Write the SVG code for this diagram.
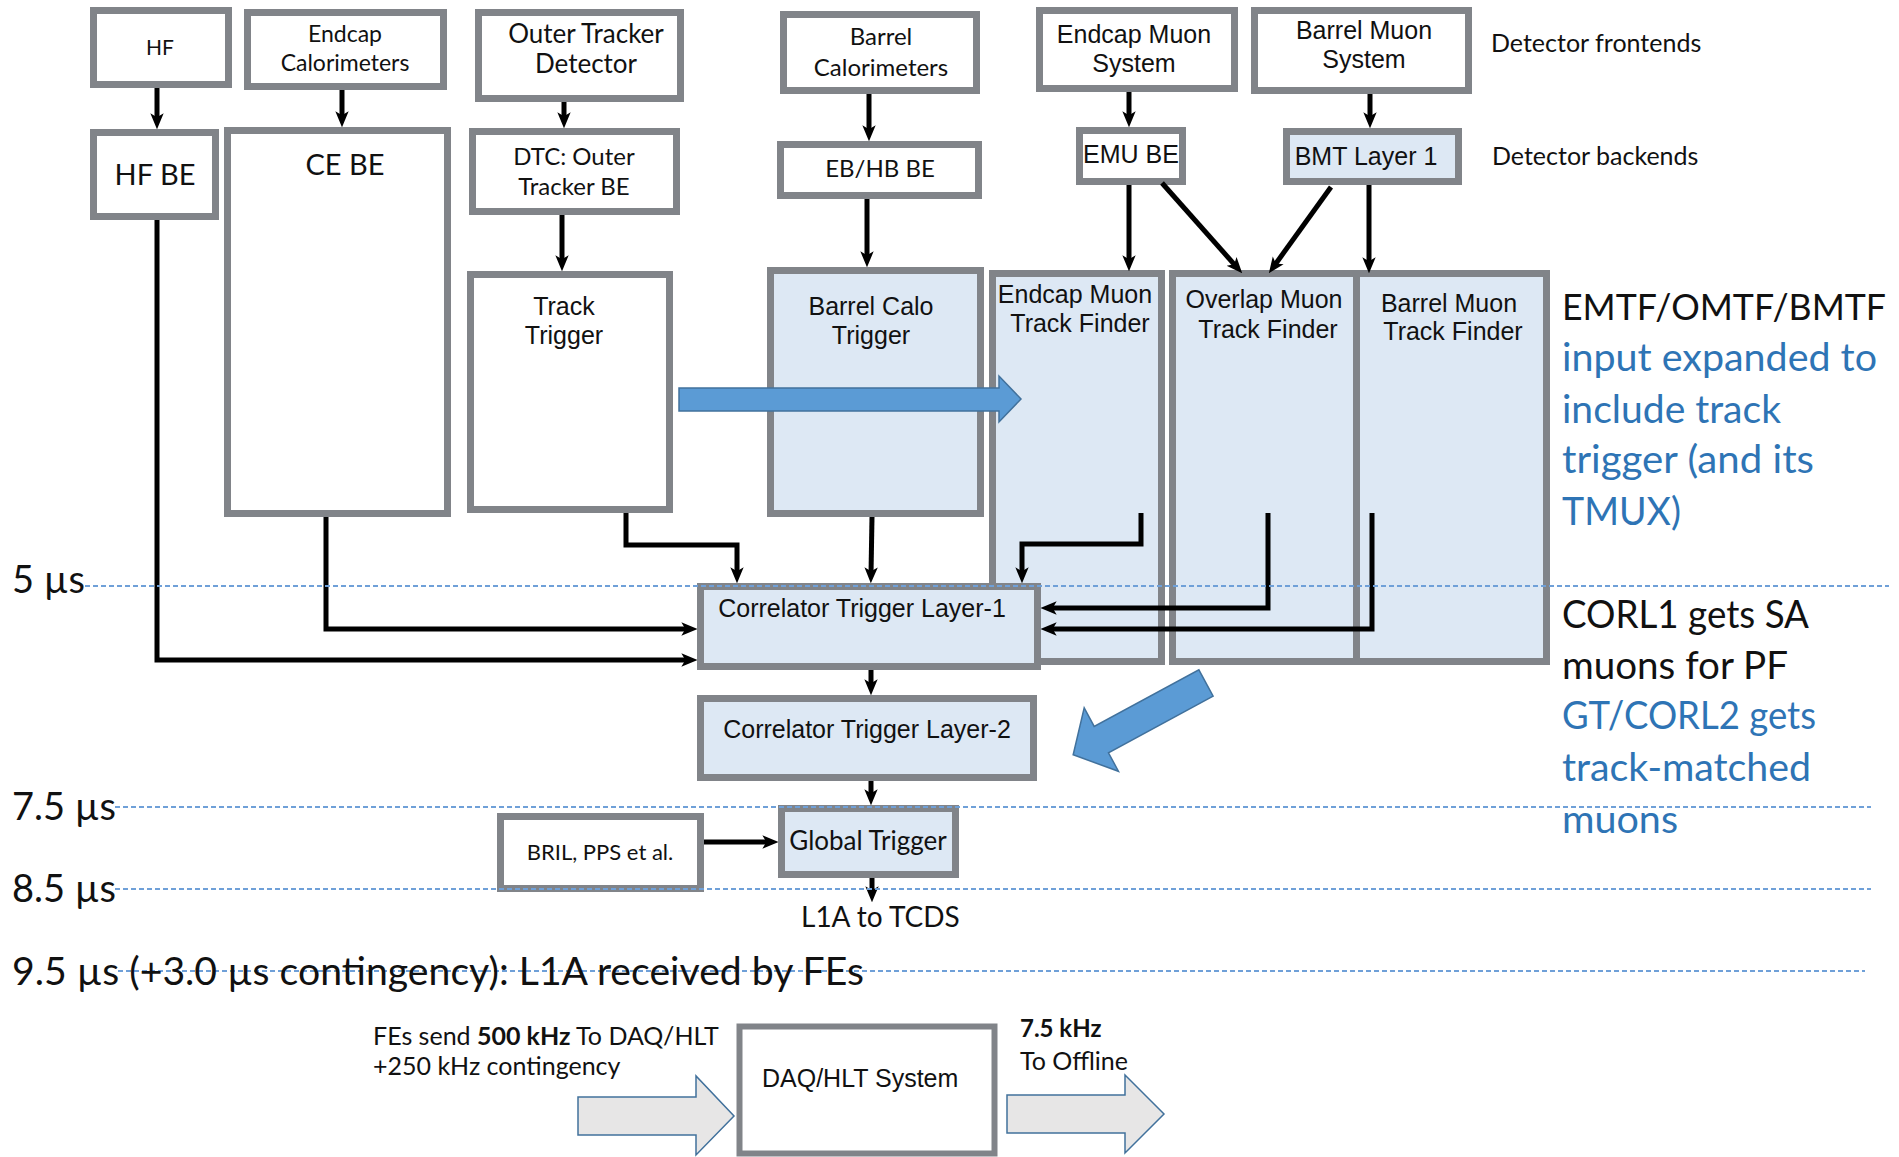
<svg xmlns="http://www.w3.org/2000/svg" width="1899" height="1157" viewBox="0 0 1899 1157">
<style>
.box{fill:#ffffff;stroke:#818489;stroke-width:7}
.lb{fill:#dde8f4}
.c{font-family:Lato,"Liberation Sans",sans-serif;fill:#111}
.a{font-family:"Liberation Sans",Arial,sans-serif;fill:#111;font-size:25px}
.m{text-anchor:middle}
.bt{fill:#2e74b5}
.r{font-size:39px}
.conn path{fill:none;stroke:#000;stroke-width:5;marker-end:url(#ah)}
.tl{stroke:#6fa0d8;stroke-width:2;stroke-dasharray:5 3;fill:none}
.big{fill:#5b9bd5;stroke:#41719c;stroke-width:1.5}
.gray{fill:#e7e6e6;stroke:#41719c;stroke-width:1.5}
</style>
<defs>
<marker id="ah" viewBox="0 0 12 12" refX="5" refY="6" markerWidth="16" markerHeight="16" markerUnits="userSpaceOnUse" orient="auto">
<path d="M0,1 L12,6 L0,11 L3,6 z" fill="#000"/>
</marker>
</defs>
<rect width="1899" height="1157" fill="#ffffff"/>

<g id="hf"><rect class="box" x="93.5" y="10.5" width="135" height="74"/><text class="c m" x="160" y="55" font-size="21">HF</text></g>
<g id="endcap-cal"><rect class="box" x="247.5" y="12.5" width="196" height="74"/><text class="c m" x="345" y="42" font-size="23">Endcap</text><text class="c m" x="345" y="71" font-size="23">Calorimeters</text></g>
<g id="outer-tracker"><rect class="box" x="478.5" y="12.5" width="202" height="86"/><text class="c m" x="586" y="43" font-size="26">Outer Tracker</text><text class="c m" x="586" y="73" font-size="26">Detector</text></g>
<g id="barrel-cal"><rect class="box" x="783.5" y="14.5" width="193" height="76"/><text class="c m" x="881" y="45" font-size="24">Barrel</text><text class="c m" x="881" y="76" font-size="24">Calorimeters</text></g>
<g id="endcap-muon-sys"><rect class="box" x="1039.5" y="10.5" width="195" height="78"/><text class="a m" x="1134" y="43">Endcap Muon</text><text class="a m" x="1134" y="72">System</text></g>
<g id="barrel-muon-sys"><rect class="box" x="1254.5" y="10.5" width="214" height="80"/><text class="a m" x="1364" y="39">Barrel Muon</text><text class="a m" x="1364" y="68">System</text></g>
<g id="hf-be"><rect class="box" x="93.5" y="132.5" width="122" height="84"/><text class="c m" x="155" y="185" font-size="29">HF BE</text></g>
<g id="ce-be"><rect class="box" x="227.5" y="130.5" width="220" height="383"/><text class="c m" x="345" y="175" font-size="29">CE BE</text></g>
<g id="dtc"><rect class="box" x="472.5" y="131.5" width="204" height="80"/><text class="c m" x="574" y="165" font-size="24">DTC: Outer</text><text class="c m" x="574" y="195" font-size="24">Tracker BE</text></g>
<g id="track-trigger"><rect class="box" x="470.5" y="274.5" width="199" height="235"/><text class="a m" x="564" y="315">Track</text><text class="a m" x="564" y="344">Trigger</text></g>
<g id="ebhb-be"><rect class="box" x="780.5" y="144.5" width="198" height="51"/><text class="c m" x="880" y="177" font-size="24">EB/HB BE</text></g>
<g id="barrel-calo-trigger"><rect class="box lb" x="770.5" y="270.5" width="210" height="243"/><text class="a m" x="871" y="315">Barrel Calo</text><text class="a m" x="871" y="344">Trigger</text></g>
<g id="emu-be"><rect class="box" x="1079.5" y="130.5" width="103" height="51"/><text class="a m" x="1131" y="163">EMU BE</text></g>
<g id="bmt-layer1"><rect class="box lb" x="1286.5" y="131.5" width="172" height="50"/><text class="a m" x="1366" y="165">BMT Layer 1</text></g>
<g id="emtf"><rect class="box lb" x="992.5" y="273.5" width="169" height="388"/><text class="a m" x="1075" y="303">Endcap Muon</text><text class="a m" x="1080" y="332">Track Finder</text></g>
<g id="omtf"><rect class="box lb" x="1172.5" y="273.5" width="184" height="388"/><text class="a m" x="1264" y="308">Overlap Muon</text><text class="a m" x="1268" y="338">Track Finder</text></g>
<g id="bmtf"><rect class="box lb" x="1356.5" y="273.5" width="190" height="388"/><text class="a m" x="1449" y="312">Barrel Muon</text><text class="a m" x="1453" y="340">Track Finder</text></g>
<g id="ctl1"><rect class="box lb" x="700.5" y="586.5" width="337" height="80"/><text class="a m" x="862" y="617">Correlator Trigger Layer-1</text></g>
<g id="ctl2"><rect class="box lb" x="700.5" y="698.5" width="333" height="79"/><text class="a m" x="867" y="738">Correlator Trigger Layer-2</text></g>
<g id="global-trigger"><rect class="box lb" x="781.5" y="808.5" width="174" height="66"/><text class="c m" x="868" y="850" font-size="26">Global Trigger</text></g>
<g id="bril"><rect class="box" x="500.5" y="816.5" width="200" height="72"/><text class="c m" x="600" y="860" font-size="22">BRIL, PPS et al.</text></g>
<g id="daq"><rect class="box" x="739.5" y="1026.5" width="255" height="127" style="stroke-width:6"/><text class="a" x="762" y="1087">DAQ/HLT System</text></g>

<g id="connectors" class="conn">
<path d="M157,88 V120"/>
<path d="M342,90 V118"/>
<path d="M564,102 V119"/>
<path d="M562,215 V262"/>
<path d="M869,94 V132"/>
<path d="M867,199 V258"/>
<path d="M1129,92 V118"/>
<path d="M1370,94 V119"/>
<path d="M1129,185 V262"/>
<path d="M1162,183 L1236,266.3"/>
<path d="M1331,187 L1274.3,265.7"/>
<path d="M1369,185 V264"/>
<path d="M326,517 V629 H688"/>
<path d="M157,220 V660 H688"/>
<path d="M626,513 V545 H737 V574"/>
<path d="M872,517 L871,574"/>
<path d="M1141,513 V544 H1022 V574"/>
<path d="M1268,513 V608 H1050"/>
<path d="M1372,513 V629 H1050"/>
<path d="M871,670 V686"/>
<path d="M871,781 V796"/>
<path d="M704,842 H769"/>
<path d="M872,878 V893"/>
</g>

<g id="block-arrows">
<path class="big" d="M679,388 H999 V376 L1021,399 L999,422 V411 H679 Z"/>
<path class="big" transform="translate(1206,683) rotate(151.6)" d="M0,-15 H119 V-36 L151,0 L119,36 V15 H0 Z"/>
<path class="gray" d="M578,1097 H696 V1076 L734,1116 L696,1155 V1135 H578 Z"/>
<path class="gray" d="M1007,1095 H1125 V1075 L1164,1114 L1125,1153 V1133 H1007 Z"/>
</g>

<g id="timeline">
<line class="tl" x1="85" y1="586" x2="1889" y2="586"/>
<line class="tl" x1="115" y1="807" x2="1871" y2="807"/>
<line class="tl" x1="115" y1="889" x2="1871" y2="889"/>
<line class="tl" x1="118" y1="971" x2="1865" y2="971"/>
<text class="c" x="12" y="593" font-size="38">5 µs</text>
<text class="c" x="12" y="820" font-size="38">7.5 µs</text>
<text class="c" x="12" y="902" font-size="38">8.5 µs</text>
<text class="c" x="12" y="985" font-size="38" textLength="852" lengthAdjust="spacingAndGlyphs">9.5 µs (+3.0 µs contingency): L1A received by FEs</text>
</g>

<g id="labels">
<text class="c" x="1491" y="52" font-size="25">Detector frontends</text>
<text class="c" x="1492" y="165" font-size="25">Detector backends</text>
<text class="c" x="801" y="927" font-size="28">L1A to TCDS</text>
<text class="c" x="373" y="1045" font-size="25">FEs send <tspan font-weight="bold">500 kHz</tspan> To DAQ/HLT</text>
<text class="c" x="373" y="1075" font-size="25">+250 kHz contingency</text>
<text class="c" x="1020" y="1037" font-size="24" font-weight="bold">7.5 kHz</text>
<text class="c" x="1020" y="1070" font-size="25">To Offline</text>
<text class="c" x="1562" y="320" font-size="37" textLength="324" lengthAdjust="spacingAndGlyphs">EMTF/OMTF/BMTF</text>
<text class="c r bt" x="1562" y="371" textLength="315" lengthAdjust="spacingAndGlyphs">input expanded to</text>
<text class="c r bt" x="1562" y="423" textLength="219" lengthAdjust="spacingAndGlyphs">include track</text>
<text class="c r bt" x="1562" y="473" textLength="252" lengthAdjust="spacingAndGlyphs">trigger (and its</text>
<text class="c r bt" x="1562" y="525" textLength="119" lengthAdjust="spacingAndGlyphs">TMUX)</text>
<text class="c r" x="1562" y="628" textLength="247" lengthAdjust="spacingAndGlyphs">CORL1 gets SA</text>
<text class="c r" x="1562" y="679" textLength="226" lengthAdjust="spacingAndGlyphs">muons for PF</text>
<text class="c r bt" x="1562" y="729" textLength="254" lengthAdjust="spacingAndGlyphs">GT/CORL2 gets</text>
<text class="c r bt" x="1562" y="781" textLength="249" lengthAdjust="spacingAndGlyphs">track-matched</text>
<text class="c r bt" x="1562" y="833" textLength="116" lengthAdjust="spacingAndGlyphs">muons</text>
</g>
</svg>
